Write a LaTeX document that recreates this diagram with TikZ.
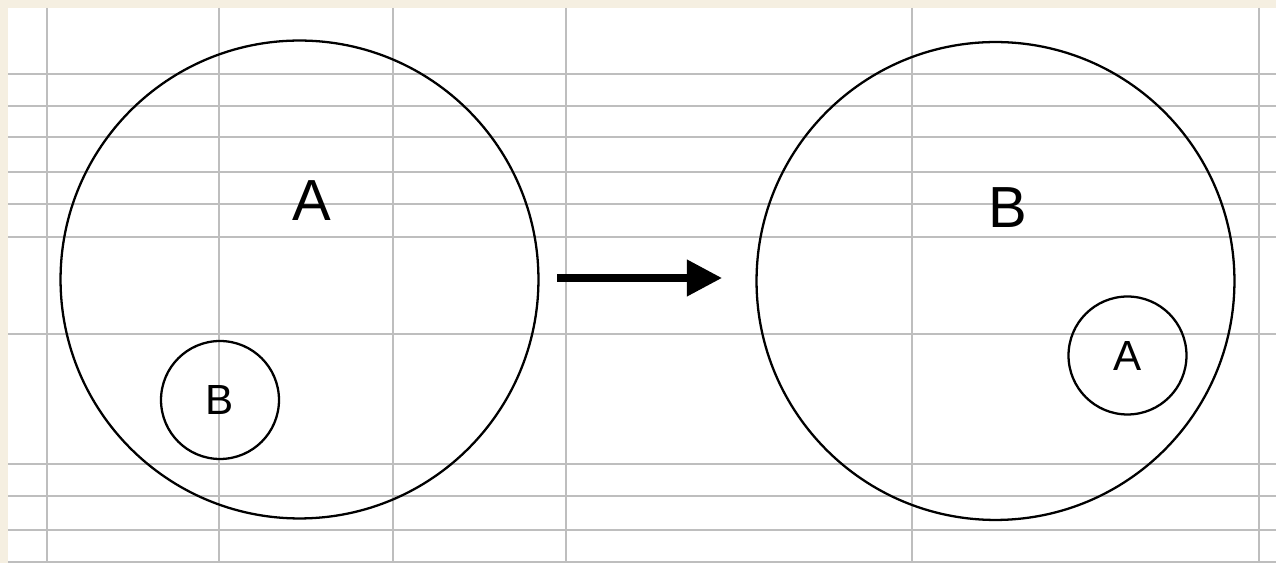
\documentclass[tikz,border=0pt]{standalone}
\usepackage{fontspec}
\setmainfont{Liberation Sans}
\usetikzlibrary{arrows.meta, positioning}

\definecolor{paper}{HTML}{F5EFE1}
\definecolor{gridgray}{HTML}{BEBEBE}

\begin{document}
\begin{tikzpicture}[x=0.02cm, y=-0.02cm,
  gridline/.style={gridgray, line width=0.9pt},
  ring/.style={draw, circle, line width=1.3pt, inner sep=0pt, minimum size=#1},
  bigtxt/.style={inner sep=0pt, font=\fontsize{33}{33}\selectfont},
  smalltxt/.style={font=\fontsize{24}{24}\selectfont}]
% sheet and margins
\useasboundingbox (0,0) rectangle (1276,563);
\fill[paper] (0,0) rectangle (1276,563);
\fill[white] (8,8) rectangle (1276,563);
% spreadsheet cells
\foreach \gx in {47,219,393,566,912,1259} {
  \draw[gridline] (\gx,8) -- (\gx,563);
}
\foreach \gy in {74,106,137,172,204,237,334,464,496,530,562} {
  \draw[gridline] (8,\gy) -- (1276,\gy);
}
% before: B inside A
\node[ring=9.56cm] (outerA) at (299.5,279.5) {};
\node[bigtxt] (labA) at (312,201) {A};
\node[ring=2.36cm, smalltxt] (innerB) at (220,400) {B};
% after: A inside B
\node[ring=9.56cm] (outerB) at (995.5,281) {};
\node[bigtxt] (labB) at (1008,208) {B};
\node[ring=2.36cm, smalltxt] (innerA) at (1127.5,355.5) {A};
% transition
\coordinate (arrS) at (557,278);
\coordinate (arrE) at (722,278);
\draw[line width=4pt, -{Triangle[length=20pt, width=20pt]}] (arrS) -- (arrE);
\end{tikzpicture}
\end{document}
